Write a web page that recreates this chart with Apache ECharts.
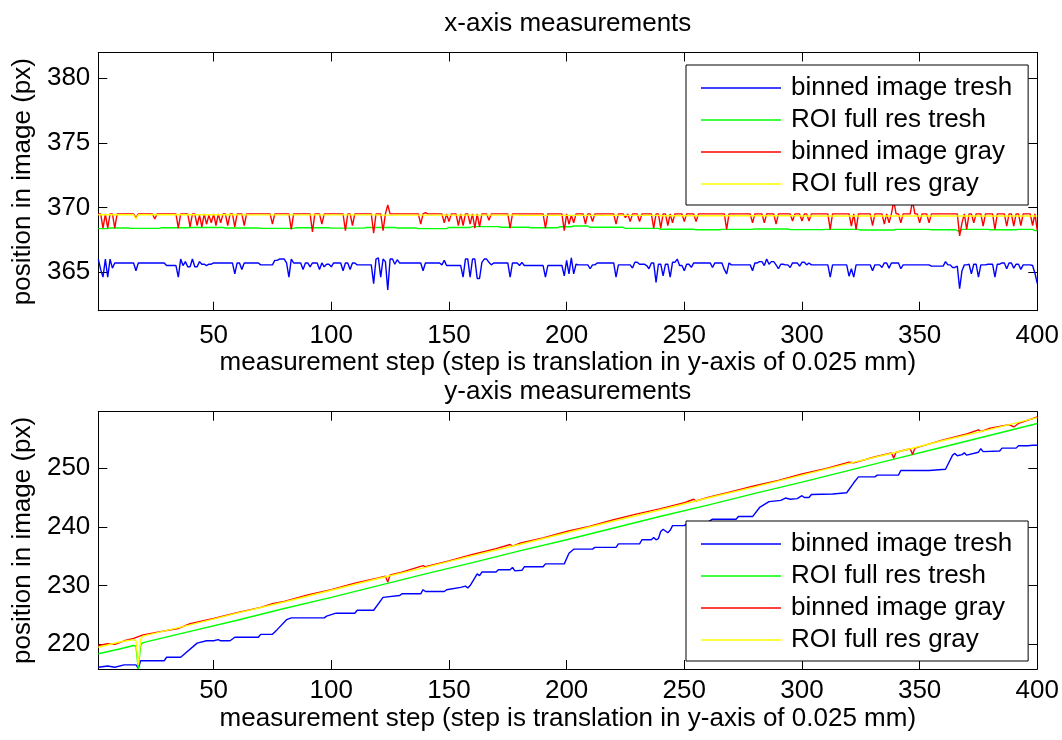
<!DOCTYPE html>
<html>
<head>
<meta charset="utf-8">
<title>x- and y-axis measurements</title>
<script src="https://cdn.jsdelivr.net/npm/echarts@6/dist/echarts.min.js"></script>
<style>
  html, body { margin: 0; padding: 0; background: #ffffff; }
  #chart { width: 1062px; height: 740px; }
</style>
</head>
<body>
<div id="chart"></div>
<script>
// ---- series names and tick labels ----
const seriesNames = ['binned image tresh', 'ROI full res tresh', 'binned image gray', 'ROI full res gray'];
const stepTicks = [50, 100, 150, 200, 250, 300, 350, 400];
const xPosTicks = [365, 370, 375, 380];
const yPosTicks = [220, 230, 240, 250];

// ---- x-axis measurements (px), run-length encoded as [first step, value] ----
const xBinnedTresh = [
  [1,366.0],[2,365.2],[3,364.6],[4,366.0],[5,364.6],[6,366.0],[7,365.3],[8,365.7],
  [17,365.1],[18,365.7],[30,365.5],[35,364.6],[36,366.0],[37,365.5],[38,365.8],[39,365.4],
  [41,366.0],[42,365.4],[44,365.8],[45,365.6],[47,365.5],[48,365.6],[50,365.7],
  [59,364.85],[60,365.7],[62,365.2],[63,365.7],[70,365.55],[76,365.9],[78,366.0],[81,365.7],
  [82,364.6],[83,366.0],[84,365.7],[88,365.2],[89,365.7],[91,365.4],[92,365.7],[95,365.2],
  [96,365.7],[97,365.4],[98,365.6],[100,365.4],[101,365.7],[105,365.1],[106,365.7],[108,365.2],
  [109,365.7],[111,365.55],[118,364.1],[119,366.0],[120,366.1],[121,364.6],[122,366.0],
  [123,365.8],[124,363.6],[125,366.0],[127,365.6],[128,365.95],[129,365.7],
  [139,365.1],[140,365.7],[147,365.55],[148,365.9],[149,365.5],[156,364.6],[157,366.0],
  [159,364.6],[160,366.0],[162,364.5],[164,365.75],[165,366.0],[167,365.75],[168,365.55],
  [169,365.7],[176,364.6],[177,365.7],[180,365.5],[181,365.75],[182,365.5],[191,364.6],
  [192,365.5],[199,364.7],[200,365.9],[201,364.85],[202,366.1],[203,364.85],[204,365.6],
  [205,365.55],[210,365.25],[211,365.55],[213,365.7],[221,364.6],[222,365.55],[228,365.3],
  [229,365.75],[231,365.6],[234,365.5],[235,365.25],[236,365.7],[238,364.2],[239,365.6],
  [241,364.7],[242,365.6],[244,364.6],[245,365.75],[247,366.0],[248,365.5],[250,365.1],
  [251,365.6],[253,365.35],[254,365.7],[262,365.35],[263,365.7],[267,365.2],[268,364.85],
  [269,365.7],[270,365.55],[279,365.1],[280,365.7],[282,365.8],[284,365.5],[285,366.0],
  [286,365.6],[287,365.8],[289,365.55],[290,365.25],[291,365.6],[293,365.55],[295,365.35],
  [296,365.7],[299,365.45],[300,365.75],[302,365.55],[303,365.7],[304,365.55],[312,364.6],
  [313,365.55],[320,364.67],[321,365.25],[322,364.6],[323,365.55],[330,365.1],[331,365.55],
  [334,365.35],[335,365.7],[337,365.3],[338,365.7],[342,365.25],[343,365.55],[355,365.45],
  [361,365.8],[362,365.55],[364,365.35],[366,365.45],[367,363.7],[368,365.1],[369,365.55],
  [371,365.6],[372,364.85],[373,365.6],[375,364.6],[376,365.55],[379,365.6],[382,364.6],
  [383,365.6],[385,365.7],[387,365.25],[388,365.7],[390,365.3],[391,365.6],[393,365.2],
  [394,365.55],[398,365.5],[399,364.9],[400,364.1]
];
const xRoiTresh = [
  [1,368.36],[6,368.41],[15,368.38],[28,368.43],[40,368.45],[55,368.41],[70,368.38],
  [85,368.43],[100,368.4],[115,368.45],[128,368.41],[137,368.36],[150,368.45],[160,368.51],
  [172,368.46],[185,368.42],[197,368.5],[203,368.56],[210,368.46],[225,368.38],[240,368.31],
  [255,368.27],[266,368.3],[280,368.33],[295,368.28],[310,368.3],[325,368.25],[340,368.3],
  [355,368.27],[366,368.22],[367,368.1],[368,368.3],[380,368.27],[392,368.3],[399,368.2]
];
const xBinnedGray = [
  [1,369.5],[3,368.4],[4,369.5],[5,368.4],[6,369.5],[8,368.4],[9,369.5],[17,369.2],[18,369.5],
  [25,369.1],[26,369.5],[35,368.4],[36,369.5],[40,368.5],[41,369.5],[43,368.6],[44,369.4],
  [45,368.5],[46,369.5],[47,368.7],[48,369.4],[49,368.8],[50,369.5],[51,368.6],[52,369.5],
  [53,368.8],[54,369.5],[56,368.6],[57,369.5],[59,368.5],[60,369.5],[63,368.6],[64,369.5],
  [75,368.7],[76,369.5],[83,368.3],[84,369.5],[92,368.1],[93,369.5],[96,368.7],[97,369.5],
  [106,368.2],[107,369.5],[109,368.6],[110,369.5],[118,368.0],[119,369.5],[122,368.2],
  [123,369.5],[124,370.2],[125,369.5],
  [138,368.7],[139,369.5],[140,369.6],[141,369.5],[148,368.8],[149,369.5],[150,368.9],
  [151,369.5],[154,368.6],[155,369.5],[156,368.6],[157,369.5],[159,368.7],[160,369.5],
  [161,368.4],[162,369.5],[163,368.5],[164,369.5],[167,369.0],[168,369.5],[176,368.4],
  [177,369.5],[191,368.4],[192,369.5],[199,368.2],[200,369.5],[201,368.7],[202,369.4],
  [203,368.8],[204,369.5],[208,368.7],[209,369.5],[211,368.9],[212,369.5],[221,368.7],
  [222,369.5],[225,369.2],[226,369.5],[227,368.9],[228,369.5],[231,368.9],[232,369.5],
  [237,368.4],[238,369.5],[240,368.4],[241,369.5],[243,368.6],[244,369.5],[245,368.8],
  [246,369.5],[250,368.9],[251,369.5],[255,368.9],[256,369.5],
  [268,368.3],[269,369.5],[279,368.8],[280,369.5],[284,368.8],[285,369.5],[289,368.7],
  [290,369.5],[296,368.95],[297,369.5],[300,368.95],[301,369.5],[303,368.95],[304,369.5],
  [312,368.3],[313,369.5],[321,368.55],[322,369.5],[323,368.3],[324,369.5],[330,368.6],
  [331,369.5],[335,368.7],[336,369.5],[337,368.8],[338,369.5],[339,370.5],[340,369.5],
  [342,368.8],[343,369.5],[347,370.5],[348,369.5],[350,368.8],[351,369.5],[354,368.8],
  [355,369.5],[367,367.8],[368,368.8],[369,369.5],[370,368.3],[371,369.5],[373,368.8],
  [374,369.5],[377,368.55],[378,369.5],[382,368.3],[383,369.5],[387,368.55],[388,369.5],
  [390,368.55],[391,369.5],[393,368.6],[394,369.5],[398,368.6],[399,369.5],[400,368.2]
];
const xRoiGray = [
  [1,369.43],[17,369.1],[18,369.43],[60,369.42],[120,369.4],[180,369.38],[240,369.36],
  [300,369.34],[360,369.33]
];

// ---- y-axis measurements (px), vertices as [step, value] ----
const yBinnedTresh = [
  [1,216.1],[5,216.3],[8,216.1],[12,216.5],[17,216.5],[18,215.9],[19,217.2],[29,217.2],
  [30,217.8],[36,217.8],[43,220.2],[47,220.6],[50,220.6],[52,220.8],[53,220.6],[57,220.6],
  [59,221.2],[69,221.2],[70,221.7],[75,221.7],[77,222.5],[81,224.2],[83,224.5],[97,224.5],
  [98,224.8],[102,225.3],[110,225.3],[111,225.8],[118,225.8],[122,228.0],[129,228.3],
  [130,228.6],[138,228.6],[139,229.3],[140,229.0],[148,229.0],[149,229.3],[155,229.7],
  [157,229.9],[158,229.6],[159,230.0],[162,232.0],[163,231.7],[164,232.3],[170,232.3],
  [171,232.7],[176,232.7],[177,233.1],[178,232.5],[181,232.6],[182,233.2],[190,233.2],
  [191,233.7],[199,233.7],[201,235.5],[203,236.2],[211,236.2],[212,236.5],[221,236.5],
  [222,237.1],[231,237.1],[232,237.8],[236,237.8],[237,238.2],[238,237.8],[239,238.0],
  [240,239.2],[241,239.6],[243,239.0],[244,239.4],[245,240.2],[250,240.2],[251,240.5],
  [260,240.8],[262,241.3],[272,241.3],[273,241.75],[279,241.75],[282,243.3],[286,244.3],
  [291,244.5],[293,244.9],[295,244.7],[298,244.8],[300,245.3],[301,245.0],[303,245.0],
  [304,245.5],[313,245.6],[319,245.8],[322,247.5],[324,248.5],[331,248.5],[332,248.8],
  [341,248.8],[342,249.6],[354,249.6],[361,249.8],[364,252.2],[365,252.5],[366,252.1],
  [368,252.3],[369,252.6],[370,252.2],[375,252.7],[376,253.3],[377,252.8],[384,252.9],
  [385,253.4],[391,253.4],[392,253.8],[396,253.8],[398,253.9],[400,253.9]
];
const yRoiTresh = [
  [1,218.4],[10,219.2],[16,219.8],[17,219.7],[18,215.8],[19,219.9],[20,220.3],[40,222.2],
  [60,224.1],[80,226.1],[100,228.0],[120,230.0],[140,232.0],[160,233.9],[180,235.9],
  [200,237.8],[220,239.8],[240,241.8],[260,243.7],[280,245.7],[300,247.6],[320,249.6],
  [340,251.6],[360,253.6],[380,255.6],[400,257.6]
];
const yBinnedGray = [
  [1,219.8],[5,220.1],[8,220.0],[12,220.6],[16,221.0],[20,221.6],[28,222.2],[35,222.7],
  [40,223.5],[50,224.4],[60,225.4],[70,226.3],[75,226.9],[80,227.3],[90,228.4],[100,229.3],
  [110,230.4],[120,231.3],[123,231.6],[124,230.6],[125,231.8],[130,232.3],[139,233.4],
  [140,233.2],[150,234.2],[160,235.3],[170,236.3],[176,237.0],[177,236.7],[180,237.2],
  [190,238.1],[200,239.2],[210,240.1],[220,241.2],[230,242.2],[240,243.1],[250,244.1],
  [254,244.7],[255,244.4],[260,245.0],[270,246.0],[280,247.0],[290,247.9],[300,249.0],
  [310,249.9],[320,251.0],[322,250.9],[330,251.8],[338,252.6],[339,251.7],[340,252.7],
  [346,253.3],[347,252.3],[348,253.4],[360,254.8],[370,255.8],[375,256.5],[376,256.2],
  [380,256.8],[388,257.4],[390,257.0],[392,257.6],[400,258.7]
];
const yRoiGray = [
  [1,219.5],[10,220.4],[16,220.8],[17,220.6],[18,216.5],[19,220.9],[20,221.4],[40,223.3],
  [60,225.3],[80,227.2],[100,229.2],[120,231.2],[140,233.1],[160,235.1],[180,237.0],
  [200,239.0],[220,241.0],[240,242.9],[260,244.9],[280,246.8],[300,248.8],[320,250.8],
  [340,252.7],[360,254.7],[380,256.6],[400,258.6]
];

// ---- drawing ----
const FONT = "'Liberation Sans', Arial, Helvetica, sans-serif";
const FS = 26;
const colors = ['#0000ff', '#00ff00', '#ff0000', '#ffff00'];
const lastStep = 400;

// Expand [first step, value] runs into one point per measurement step.
function expandRuns(runs) {
  const out = [];
  let k = 0;
  for (let s = 1; s <= lastStep; s++) {
    while (k + 1 < runs.length && runs[k + 1][0] <= s) k++;
    out.push([s, runs[k][1]]);
  }
  return out;
}

const axisLine = { show: true, onZero: false, lineStyle: { color: '#000', width: 1 } };
const textBase = { color: '#000', fontFamily: FONT, fontSize: FS };

function stepAxis(gridIndex, onTop, name, gap, labelMargin) {
  return {
    type: 'value', gridIndex, position: onTop ? 'top' : 'bottom',
    min: 1, max: lastStep,
    axisLine,
    axisTick: { show: true, inside: true, length: 9, customValues: stepTicks, lineStyle: { color: '#000' } },
    axisLabel: { show: !onTop, customValues: stepTicks, margin: labelMargin, ...textBase },
    splitLine: { show: false },
    name, nameLocation: 'middle', nameGap: gap, nameTextStyle: { ...textBase }
  };
}

function posAxis(gridIndex, onRight, min, max, ticks) {
  return {
    type: 'value', gridIndex, position: onRight ? 'right' : 'left',
    min, max,
    axisLine,
    axisTick: { show: true, inside: true, length: 9, customValues: ticks, lineStyle: { color: '#000' } },
    axisLabel: { show: !onRight, customValues: ticks, margin: 8, ...textBase },
    splitLine: { show: false },
    name: onRight ? '' : 'position in image (px)', nameLocation: 'middle', nameGap: 61,
    nameTextStyle: { ...textBase }
  };
}

// Boxed legend with a plain line sample before each name.
function makeLegend(top) {
  return {
    orient: 'vertical', left: 686, top,
    data: seriesNames,
    icon: 'rect',
    backgroundColor: '#fff', borderColor: '#000', borderWidth: 1, borderRadius: 0,
    padding: [10, 16, 8, 15],
    itemWidth: 80, itemHeight: 1.5, itemGap: 6,
    textStyle: { ...textBase, padding: [0, 0, 0, 5], lineHeight: 26 },
    selectedMode: false
  };
}

const xSets = [xBinnedTresh, xRoiTresh, xBinnedGray, xRoiGray].map(expandRuns);
const ySets = [yBinnedTresh, yRoiTresh, yBinnedGray, yRoiGray];

const series = [];
[xSets, ySets].forEach((sets, g) => {
  sets.forEach((data, i) => {
    series.push({
      name: seriesNames[i], type: 'line',
      xAxisIndex: g * 2, yAxisIndex: g * 2,
      data, showSymbol: false, symbol: 'none',
      color: colors[i],
      itemStyle: { color: colors[i] },
      lineStyle: { color: colors[i], width: 1.4 },
      emphasis: { disabled: true }
    });
  });
});

const stepName = 'measurement step (step is translation in y-axis of 0.025 mm)';
const chart = echarts.init(document.getElementById('chart'), null, { renderer: 'canvas' });
chart.setOption({
  animation: false,
  backgroundColor: '#ffffff',
  textStyle: { fontFamily: FONT },
  grid: [
    { left: 98.3, right: 24.7, top: 52.5, height: 258.2, outerBoundsMode: 'none', containLabel: false },
    { left: 98.3, right: 24.7, top: 411.7, height: 257.3, outerBoundsMode: 'none', containLabel: false }
  ],
  xAxis: [
    stepAxis(0, false, stepName, 38, 12),
    stepAxis(0, true, 'x-axis measurements', 16, 9),
    stepAxis(1, false, stepName, 37, 9),
    stepAxis(1, true, 'y-axis measurements', 7, 9)
  ],
  yAxis: [
    posAxis(0, false, 362, 382, xPosTicks),
    posAxis(0, true, 362, 382, xPosTicks),
    posAxis(1, false, 215.8, 259.6, yPosTicks),
    posAxis(1, true, 215.8, 259.6, yPosTicks)
  ],
  legend: [makeLegend(65), makeLegend(521)],
  tooltip: { show: false },
  series
});
</script>
</body>
</html>
